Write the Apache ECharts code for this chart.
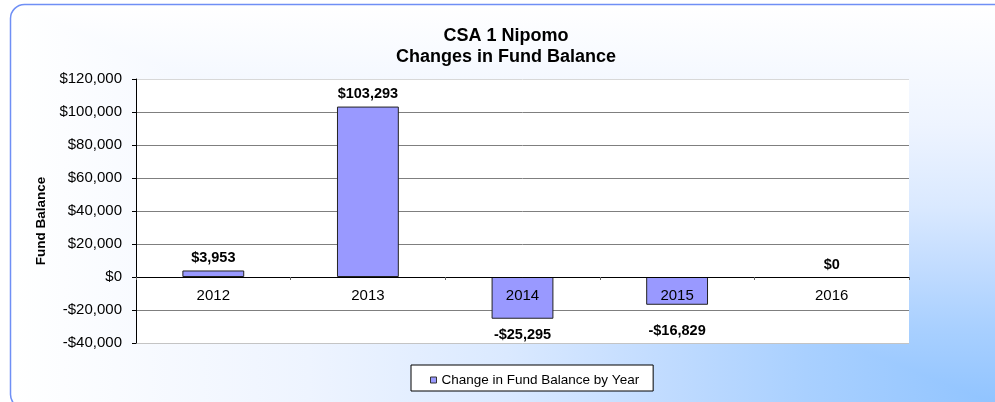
<!DOCTYPE html>
<html><head><meta charset="utf-8">
<script src="https://cdn.jsdelivr.net/npm/echarts@6/dist/echarts.min.js"></script>
<style>html,body{margin:0;padding:0;background:#fff}#c{width:995px;height:402px}</style>
</head><body><div id="c"></div>
<script>
const titleLines = ['CSA 1 Nipomo', 'Changes in Fund Balance'];
const categories = ['2012', '2013', '2014', '2015', '2016'];
const values = [3953, 103293, -25295, -16829, 0];
const seriesName = 'Change in Fund Balance by Year';
const yAxisName = 'Fund Balance';
const yMin = -40000, yMax = 120000, yStep = 20000;

const fmt = v => (v < 0 ? '-$' : '$') + Math.abs(v).toLocaleString('en-US');
const FONT = '"Liberation Sans", Arial, sans-serif';

const W = 995, H = 402;
const gridTop = 79, gridBottom = 59;
const gridH = H - gridTop - gridBottom;
// x axis sits on the zero line: offset derived from the value scale
const zeroOffset = -((0 - yMin) / (yMax - yMin)) * gridH;

const chart = echarts.init(document.getElementById('c'));
const data = values.map((v, i) => {
  const item = { value: v };
  if (v < 0) item.label = { position: 'bottom', distance: (i === 3 ? 19 : 9) };
  else item.label = { position: 'top', distance: 5 };
  if (v === 0) item.itemStyle = { borderWidth: 0 };
  return item;
});
const nLines = Math.round((yMax - yMin) / yStep) + 1;
const splitColors = [];
for (let i = 0; i < nLines; i++) splitColors.push(i === 0 ? '#c4c4c4' : (i === nLines - 1 ? '#d8d8d8' : '#7f7f7f'));

const bgStops = () => [
  { offset: 0, color: '#8fc3ff' },
  { offset: 0.2, color: '#a9d0ff' },
  { offset: 0.35, color: '#c2dcff' },
  { offset: 0.5, color: '#dae9ff' },
  { offset: 0.7, color: '#eef4ff' },
  { offset: 1, color: '#ffffff' }
];

chart.setOption({
  animation: false,
  backgroundColor: '#fff',
  textStyle: { fontFamily: FONT },
  graphic: [{
    type: 'rect', z: -12, silent: true,
    shape: { x: 10, y: 4, width: 995, height: 404 },
    style: { fill: new echarts.graphic.LinearGradient(1, 0, 0, 0, bgStops()) }
  }, {
    type: 'rect', z: -11, silent: true,
    shape: { x: 10, y: 4, width: 995, height: 404 },
    style: { fill: new echarts.graphic.LinearGradient(0, 1, 0, 0, bgStops()), blend: 'lighten' }
  }, {
    type: 'rect', z: -10, silent: true,
    shape: { x: 10.5, y: 4.5, width: 1000, height: 404, r: 14 },
    style: { fill: 'none', stroke: '#6f8ff5', lineWidth: 1.5 }
  }],
  title: {
    text: titleLines.join('\n'),
    left: 501, top: 20, textAlign: 'center',
    textStyle: { fontFamily: FONT, fontSize: 18, fontWeight: 'bold', color: '#000', lineHeight: 21.5 }
  },
  legend: {
    data: [seriesName],
    left: 411, top: 365,
    padding: [8, 14, 4, 19],
    backgroundColor: '#fff', borderColor: '#000', borderWidth: 1,
    icon: 'rect', itemWidth: 6, itemHeight: 6, itemGap: 4,
    itemStyle: { borderColor: '#333', borderWidth: 1 },
    textStyle: { fontFamily: FONT, fontSize: 13.5, color: '#000' }
  },
  grid: {
    left: 136, right: W - 909, top: gridTop, bottom: gridBottom,
    show: true, backgroundColor: '#fff', borderWidth: 0
  },
  xAxis: {
    type: 'category', data: categories, z: 5,
    position: 'bottom', offset: zeroOffset,
    axisLine: { onZero: false, lineStyle: { color: '#000', width: 1 } },
    axisTick: { show: true, alignWithLabel: false, length: 3, inside: false, lineStyle: { color: '#666' } },
    axisLabel: { fontFamily: FONT, fontSize: 15, color: '#000', margin: 11 },
    splitLine: { show: false }
  },
  yAxis: {
    type: 'value', min: yMin, max: yMax, interval: yStep,
    name: yAxisName, nameLocation: 'middle', nameGap: 87, nameRotate: 90,
    nameTextStyle: { fontFamily: FONT, fontSize: 13.5, fontWeight: 'bold', color: '#000', padding: [0, 0, 0, -20] },
    axisLine: { show: true, lineStyle: { color: '#000' } },
    axisTick: { show: true, length: 4, lineStyle: { color: '#000' } },
    axisLabel: { fontFamily: FONT, fontSize: 15, color: '#000', margin: 14, formatter: v => fmt(v) },
    splitLine: { show: true, lineStyle: { color: splitColors, width: 1 } }
  },
  series: [{
    name: seriesName, type: 'bar', data: data,
    barWidth: '40%',
    itemStyle: { color: '#9999ff', borderColor: '#222', borderWidth: 1 },
    label: {
      show: true, fontFamily: FONT, fontSize: 14.5, fontWeight: 'bold', color: '#000',
      formatter: p => fmt(p.value)
    }
  }]
});
</script></body></html>
